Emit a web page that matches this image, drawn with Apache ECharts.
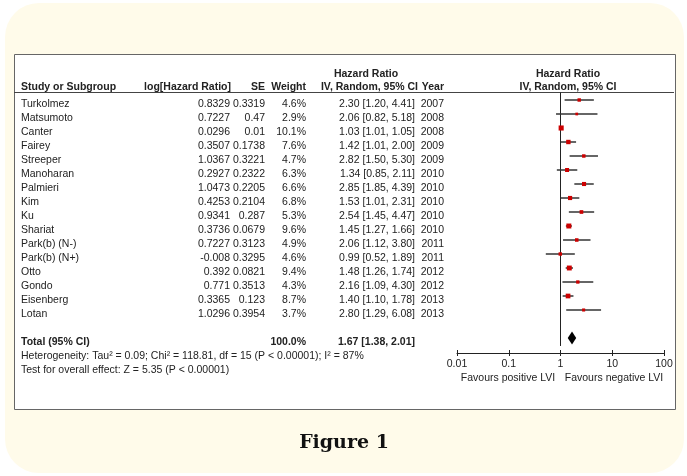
<!DOCTYPE html>
<html><head><meta charset="utf-8">
<script src="https://cdn.jsdelivr.net/npm/echarts@6/dist/echarts.min.js"></script>
<style>html,body{margin:0;padding:0;background:#fff;}#c{width:687px;height:476px;}</style>
</head><body><div id="c"></div>
<script>
// ---------- DATA ----------
const studies = ['Turkolmez','Matsumoto','Canter','Fairey','Streeper','Manoharan','Palmieri','Kim','Ku','Shariat','Park(b) (N-)','Park(b) (N+)','Otto','Gondo','Eisenberg','Lotan'];
const logHR = [0.8329,0.7227,0.0296,0.3507,1.0367,0.2927,1.0473,0.4253,0.9341,0.3736,0.7227,-0.008,0.392,0.771,0.3365,1.0296];
const seVals = [0.3319,0.47,0.01,0.1738,0.3221,0.2322,0.2205,0.2104,0.287,0.0679,0.3123,0.3295,0.0821,0.3513,0.123,0.3954];
const weights = [4.6,2.9,10.1,7.6,4.7,6.3,6.6,6.8,5.3,9.6,4.9,4.6,9.4,4.3,8.7,3.7];
const hrVals = [2.30,2.06,1.03,1.42,2.82,1.34,2.85,1.53,2.54,1.45,2.06,0.99,1.48,2.16,1.40,2.80];
const ciLow = [1.20,0.82,1.01,1.01,1.50,0.85,1.85,1.01,1.45,1.27,1.12,0.52,1.26,1.09,1.10,1.29];
const ciHigh = [4.41,5.18,1.05,2.00,5.30,2.11,4.39,2.31,4.47,1.66,3.80,1.89,1.74,4.30,1.78,6.08];
const years = [2007,2008,2008,2009,2009,2010,2010,2010,2010,2010,2011,2011,2012,2012,2013,2013];
const totalLabel = 'Total (95% CI)';
const totalWeight = 100.0;
const totalHR = 1.67, totalLow = 1.38, totalHigh = 2.01;
const heterogeneityText = 'Heterogeneity: Tau\u00b2 = 0.09; Chi\u00b2 = 118.81, df = 15 (P < 0.00001); I\u00b2 = 87%';
const overallText = 'Test for overall effect: Z = 5.35 (P < 0.00001)';
const xTicks = [0.01, 0.1, 1, 10, 100];
const nullValue = 1;
const favourLeft = 'Favours positive LVI';
const favourRight = 'Favours negative LVI';
const headGroup = 'Hazard Ratio';
const headCols = ['Study or Subgroup','log[Hazard Ratio]','SE','Weight','IV, Random, 95% CI','Year'];
const headPlot = ['Hazard Ratio','IV, Random, 95% CI'];
const captionText = 'Figure 1';

// ---------- LAYOUT ----------
const FONT = '"Liberation Sans", Arial, sans-serif';
const FS = '10.5px ';
const TXT = '#222';
const rowH = 14;
const tableTop = 97;      // top of row band 0 (text)
const plotTop = 93;       // top of row band 0 (plot marks)
const axisY = 353;
const plotLeft = 457, plotRight = 664;
const col = {name:21, log:230, se:265, w:306, ci:415, year:444};
const totalRow = 17, hetRow = 18, testRow = 19;

const fmt2 = v => v.toFixed(2);
const ciText = studies.map((s,i)=> fmt2(hrVals[i]) + ' [' + fmt2(ciLow[i]) + ', ' + fmt2(ciHigh[i]) + ']');

function textSeries(x, rows, texts, align, bold) {
  return {
    type: 'custom', xAxisIndex: 0, yAxisIndex: 0, silent: true, z: 5,
    data: rows.map(r => [x, r]),
    renderItem: function (params, api) {
      const p = api.coord([api.value(0), api.value(1)]);
      return {
        type: 'text', x: p[0], y: p[1],
        style: {
          text: String(texts[params.dataIndex]), textAlign: align, textVerticalAlign: 'middle',
          font: (bold ? 'bold ' : '') + FS + FONT, fill: TXT
        }
      };
    }
  };
}
const rowIdx = studies.map((s,i)=>i);

const series = [
  textSeries(col.name, rowIdx, studies, 'left', false),
  textSeries(col.log, rowIdx, logHR.map(String), 'right', false),
  textSeries(col.se, rowIdx, seVals.map(String), 'right', false),
  textSeries(col.w, rowIdx, weights.map(v=>v.toFixed(1)+'%'), 'right', false),
  textSeries(col.ci, rowIdx, ciText, 'right', false),
  textSeries(col.year, rowIdx, years.map(String), 'right', false),
  textSeries(col.name, [totalRow], [totalLabel], 'left', true),
  textSeries(col.w, [totalRow], [totalWeight.toFixed(1)+'%'], 'right', true),
  textSeries(col.ci, [totalRow], [fmt2(totalHR)+' ['+fmt2(totalLow)+', '+fmt2(totalHigh)+']'], 'right', true),
  textSeries(col.name, [hetRow], [heterogeneityText], 'left', false),
  textSeries(col.name, [testRow], [overallText], 'left', false),
  // null line
  {
    type: 'line', xAxisIndex: 1, yAxisIndex: 1, silent: true, symbol: 'none',
    lineStyle: {color: '#222', width: 1}, z: 3,
    data: [[nullValue, -0.57], [nullValue, totalRow + 0.57]]
  },
  // study CIs + squares
  {
    type: 'custom', xAxisIndex: 1, yAxisIndex: 1, silent: true, z: 4,
    data: studies.map((s,i)=>[hrVals[i], i, ciLow[i], ciHigh[i], weights[i]]),
    renderItem: function (params, api) {
      const y = api.value(1);
      const a = api.coord([api.value(2), y]);
      const b = api.coord([api.value(3), y]);
      const c = api.coord([api.value(0), y]);
      const s = 1.6 * Math.sqrt(api.value(4));
      return {
        type: 'group', children: [
          {type: 'line', shape: {x1: a[0], y1: a[1], x2: b[0], y2: b[1]}, style: {stroke: '#333', lineWidth: 1.5}},
          {type: 'rect', shape: {x: c[0] - s/2, y: c[1] - s/2, width: s, height: s}, style: {fill: '#cc0000'}}
        ]
      };
    }
  },
  // total diamond
  {
    type: 'custom', xAxisIndex: 1, yAxisIndex: 1, silent: true, z: 4,
    data: [[totalHR, totalRow, totalLow, totalHigh]],
    renderItem: function (params, api) {
      const y = api.value(1);
      const l = api.coord([api.value(2), y]);
      const r = api.coord([api.value(3), y]);
      const c = api.coord([api.value(0), y]);
      return {
        type: 'polygon',
        shape: {points: [[l[0], c[1]], [c[0], c[1] - 6.5], [r[0], c[1]], [c[0], c[1] + 6.5]]},
        style: {fill: '#000'}
      };
    }
  }
];

const HF = 'bold ' + FS + FONT;
const chart = echarts.init(document.getElementById('c'), null, {renderer: 'canvas'});
chart.setOption({
  animation: false,
  backgroundColor: '#fff',
  grid: [
    {left: 0, width: 687, top: tableTop, height: 20 * rowH},
    {left: plotLeft, width: plotRight - plotLeft, top: plotTop, height: axisY - plotTop}
  ],
  xAxis: [
    {gridIndex: 0, type: 'value', min: 0, max: 687, show: false},
    {gridIndex: 1, type: 'log', logBase: 10, min: xTicks[0], max: xTicks[xTicks.length-1], position: 'bottom',
     axisLine: {onZero: false, lineStyle: {color: '#222', width: 1}},
     axisTick: {show: true, length: 3, lineStyle: {color: '#222'}},
     axisLabel: {color: TXT, fontSize: 10.5, fontFamily: FONT, margin: 6,
       formatter: v => { const t = xTicks.find(k => Math.abs(Math.log10(k) - Math.log10(v)) < 1e-6); return t === undefined ? '' : String(t); }},
     splitLine: {show: false}},
    {gridIndex: 1, type: 'log', logBase: 10, min: xTicks[0], max: xTicks[xTicks.length-1], position: 'bottom',
     axisLine: {show: false, onZero: false},
     axisTick: {show: true, inside: true, length: 3, lineStyle: {color: '#222'}},
     axisLabel: {show: false}, splitLine: {show: false}}
  ],
  yAxis: [
    {gridIndex: 0, type: 'value', inverse: true, min: -0.5, max: 19.5, show: false},
    {gridIndex: 1, type: 'value', inverse: true, min: -0.5, max: -0.5 + (axisY - plotTop) / rowH, show: false}
  ],
  graphic: [
    {type: 'rect', z: -10, shape: {x: 5, y: 3, width: 679, height: 470, r: 34}, style: {fill: '#fffbea'}},
    {type: 'rect', z: -9, shape: {x: 14.5, y: 54.5, width: 661, height: 355}, style: {fill: '#fff', stroke: '#666', lineWidth: 1}},
    {type: 'line', z: 1, shape: {x1: 14, y1: 92.5, x2: 674, y2: 92.5}, style: {stroke: '#444', lineWidth: 1}},
    {type: 'text', x: 366, y: 74, style: {text: headGroup, textAlign: 'center', textVerticalAlign: 'middle', font: HF, fill: TXT}},
    {type: 'text', x: col.name, y: 87, style: {text: headCols[0], textAlign: 'left', textVerticalAlign: 'middle', font: HF, fill: TXT}},
    {type: 'text', x: col.log + 1, y: 87, style: {text: headCols[1], textAlign: 'right', textVerticalAlign: 'middle', font: HF, fill: TXT}},
    {type: 'text', x: col.se, y: 87, style: {text: headCols[2], textAlign: 'right', textVerticalAlign: 'middle', font: HF, fill: TXT}},
    {type: 'text', x: col.w, y: 87, style: {text: headCols[3], textAlign: 'right', textVerticalAlign: 'middle', font: HF, fill: TXT}},
    {type: 'text', x: col.ci + 3, y: 87, style: {text: headCols[4], textAlign: 'right', textVerticalAlign: 'middle', font: HF, fill: TXT}},
    {type: 'text', x: col.year, y: 87, style: {text: headCols[5], textAlign: 'right', textVerticalAlign: 'middle', font: HF, fill: TXT}},
    {type: 'text', x: 568, y: 74, style: {text: headPlot[0], textAlign: 'center', textVerticalAlign: 'middle', font: HF, fill: TXT}},
    {type: 'text', x: 568, y: 87, style: {text: headPlot[1], textAlign: 'center', textVerticalAlign: 'middle', font: HF, fill: TXT}},
    {type: 'text', x: 508, y: 378, style: {text: favourLeft, textAlign: 'center', textVerticalAlign: 'middle', font: FS + FONT, fill: TXT}},
    {type: 'text', x: 614, y: 378, style: {text: favourRight, textAlign: 'center', textVerticalAlign: 'middle', font: FS + FONT, fill: TXT}},
    {type: 'text', x: 344, y: 443, style: {text: captionText, textAlign: 'center', textVerticalAlign: 'middle', font: 'bold 19px "DejaVu Serif", serif', fill: '#111'}}
  ],
  series: series
});
</script>
</body></html>
